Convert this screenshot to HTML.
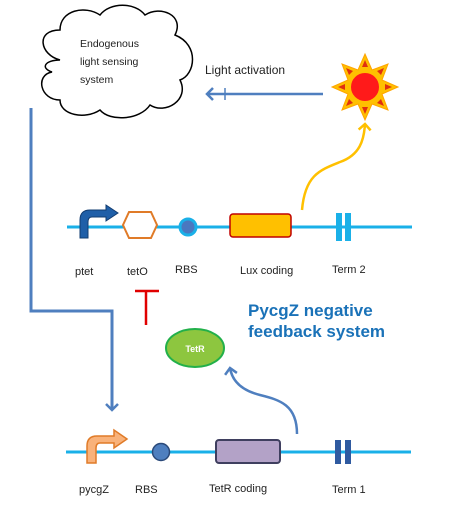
<!DOCTYPE html>
<html><head><meta charset="utf-8"><style>
body{margin:0;background:#fff}
svg{display:block;font-family:"Liberation Sans",sans-serif}
</style></head><body>
<svg width="449" height="519" viewBox="0 0 449 519">
<defs>
<marker id="ab" markerWidth="14" markerHeight="14" refX="8" refY="7" orient="auto" markerUnits="userSpaceOnUse"><path d="M2,1 L8,7 L2,13" fill="none" stroke="#4f7fbf" stroke-width="2.5"/></marker>
<marker id="ay" markerWidth="14" markerHeight="14" refX="8" refY="7" orient="auto" markerUnits="userSpaceOnUse"><path d="M2,1 L8,7 L2,13" fill="none" stroke="#ffc000" stroke-width="2.5"/></marker>
</defs>
<g>
<path d="M60,60 C40,55 35,30 60,30 C60,10 85,5 100,15 C110,2 135,2 145,15 C160,5 185,15 175,35 C200,45 195,75 180,80 C190,100 165,115 150,105 C140,120 110,122 100,110 C85,120 60,115 60,100 C40,100 35,75 52,72 C40,68 45,60 60,60 Z" fill="#fff" stroke="#000" stroke-width="1.5"/>
<text x="80" y="47" font-size="10.5" fill="#222">Endogenous</text>
<text x="80" y="65" font-size="10.5" fill="#222">light sensing</text>
<text x="80" y="83" font-size="10.5" fill="#222">system</text>
</g>
<text x="205" y="74" font-size="12" fill="#222">Light activation</text>
<g>
<line x1="323" y1="94" x2="207" y2="94" stroke="#4f7fbf" stroke-width="2.5" marker-end="url(#ab)"/>
<line x1="225" y1="88" x2="225" y2="100" stroke="#4f7fbf" stroke-width="1.5"/>
</g>
<g transform="translate(365,87)">
<polygon points="0,-33 7,-17 23,-23 17,-7 33,0 17,7 23,23 7,17 0,33 -7,17 -23,23 -17,7 -33,0 -17,-7 -23,-23 -7,-17" fill="#ffc000" stroke="#ffa500"/>
<g fill="#e03010"><polygon points="0,-27 -3,-20 3,-20"/><polygon points="0,27 -3,20 3,20"/><polygon points="-27,0 -20,-3 -20,3"/><polygon points="27,0 20,-3 20,3"/><polygon points="19,-19 12,-16 16,-12"/><polygon points="-19,-19 -12,-16 -16,-12"/><polygon points="19,19 12,16 16,12"/><polygon points="-19,19 -12,16 -16,12"/></g>
<circle r="15" fill="#ff1a1a" stroke="#ffc000" stroke-width="2"/>
</g>
<path d="M302,210 C305,175 320,170 340,162 C360,155 364,140 365,124" fill="none" stroke="#ffc000" stroke-width="2.5" marker-end="url(#ay)"/>
<line x1="67" y1="227" x2="412" y2="227" stroke="#1ab0e8" stroke-width="3"/>
<path d="M80,238 L80,220 Q80,210 90,210 L106,210 L106,205 L118,213 L106,221 L106,217 L92,217 Q88,217 88,222 L88,238 Z" fill="#1f5fa8" stroke="#123c70" stroke-width="1"/>
<polygon points="129,212 151,212 157,225 151,238 129,238 123,225" fill="#fff" stroke="#e07b28" stroke-width="2"/>
<circle cx="188" cy="227" r="8" fill="#4a78c0" stroke="#1ab0e8" stroke-width="3"/>
<rect x="230" y="214" width="61" height="23" rx="3" fill="#ffc000" stroke="#c00000" stroke-width="1.5"/>
<g fill="#1ab0e8"><rect x="336" y="213" width="6" height="28"/><rect x="345" y="213" width="6" height="28"/></g>
<g font-size="11" fill="#222">
<text x="75" y="275">ptet</text>
<text x="127" y="275">tetO</text>
<text x="175" y="273">RBS</text>
<text x="240" y="274">Lux coding</text>
<text x="332" y="273">Term 2</text>
</g>
<path d="M31,108 L31,311 L112,311 L112,410" fill="none" stroke="#4f7fbf" stroke-width="3" marker-end="url(#ab)"/>
<g stroke="#e00000" stroke-width="2.5"><line x1="135" y1="291" x2="159" y2="291"/><line x1="146" y1="291" x2="146" y2="325"/></g>
<g font-size="17" fill="#1a72b8" font-weight="bold">
<text x="248" y="316">PycgZ negative</text>
<text x="248" y="337">feedback system</text>
</g>
<g>
<ellipse cx="195" cy="348" rx="29" ry="19" fill="#8dc63f" stroke="#22b04a" stroke-width="2"/>
<text x="195" y="352" font-size="9" fill="#fff" font-weight="bold" text-anchor="middle">TetR</text>
</g>
<path d="M297,434 C297,405 280,400 260,395 C240,390 232,380 230,368" fill="none" stroke="#4f7fbf" stroke-width="2.5" marker-end="url(#ab)"/>
<line x1="66" y1="452" x2="411" y2="452" stroke="#1ab0e8" stroke-width="3"/>
<path d="M87,463 L87,446 Q87,436 97,436 L114,436 L114,430 L127,439 L114,448 L114,443 L100,443 Q96,443 96,448 L96,463 Z" fill="#f9b27a" stroke="#e07b28" stroke-width="1.5"/>
<circle cx="161" cy="452" r="8.5" fill="#4f7fbf" stroke="#2b4a7a" stroke-width="1.5"/>
<rect x="216" y="440" width="64" height="23" rx="3" fill="#b3a2c7" stroke="#3f3f5f" stroke-width="2"/>
<g fill="#2f5aa0"><rect x="335" y="440" width="6" height="24"/><rect x="345" y="440" width="6" height="24"/></g>
<g font-size="11" fill="#222">
<text x="79" y="493">pycgZ</text>
<text x="135" y="493">RBS</text>
<text x="209" y="492">TetR  coding</text>
<text x="332" y="493">Term 1</text>
</g>
</svg>
</body></html>
